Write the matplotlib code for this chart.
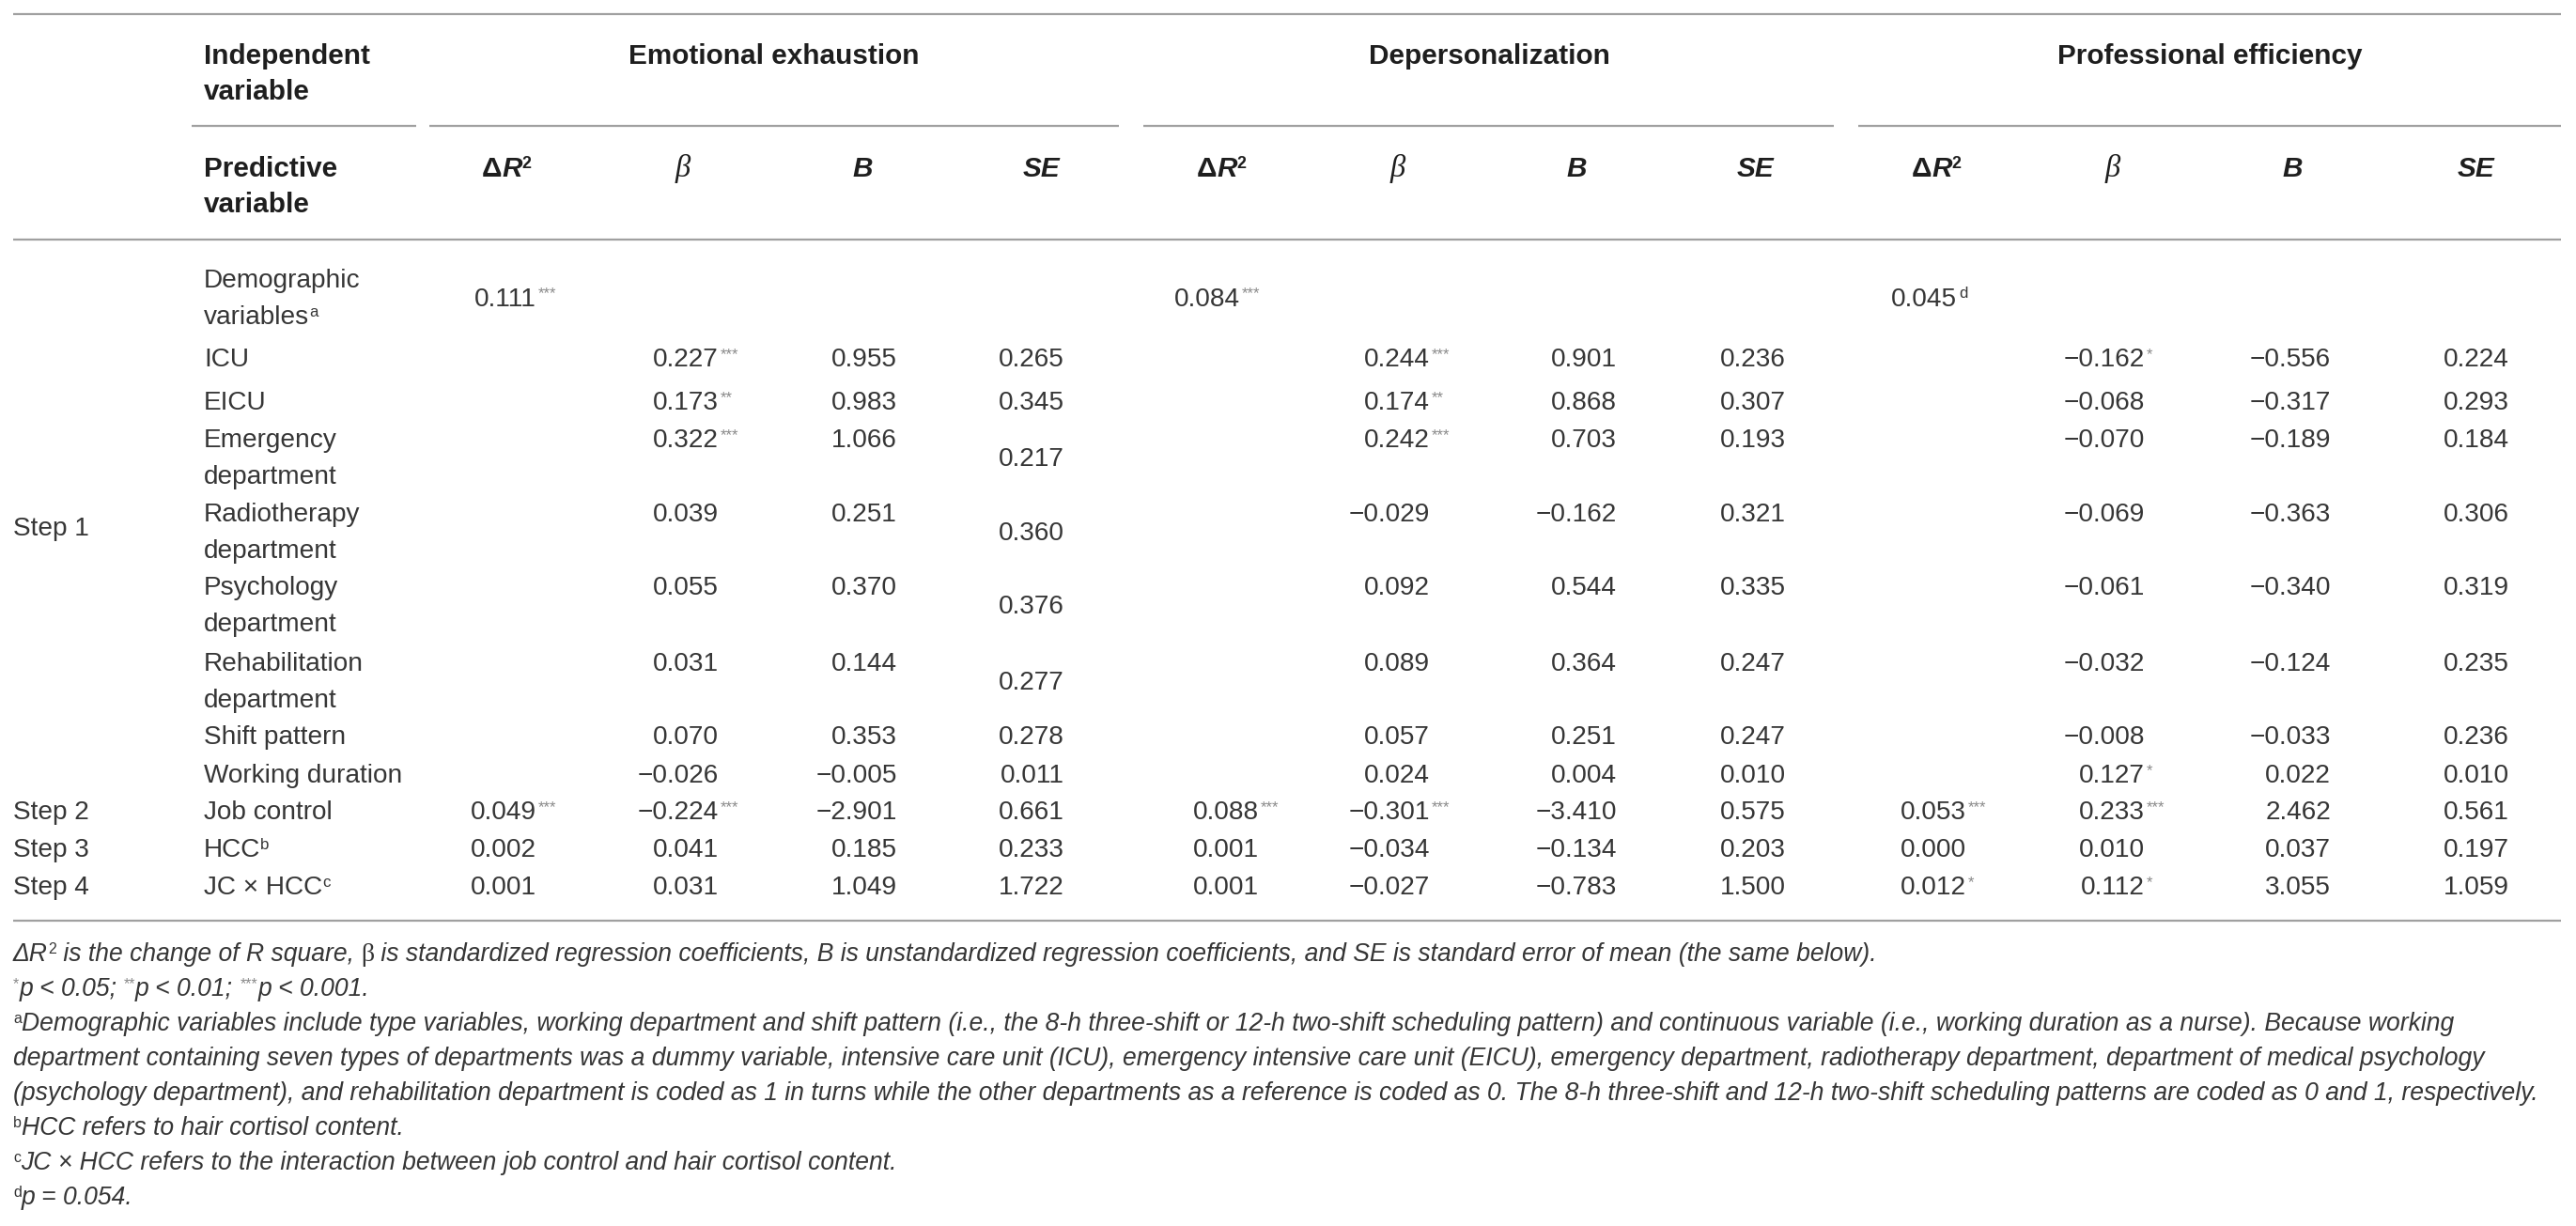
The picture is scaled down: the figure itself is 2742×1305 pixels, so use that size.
import re
import matplotlib
matplotlib.use("Agg")
import matplotlib.pyplot as plt

# ---- table content -------------------------------------------------------
GROUPS = ["Emotional exhaustion", "Depersonalization", "Professional efficiency"]
STEPS = ["Step 1", "Step 2", "Step 3", "Step 4"]
PREDICTORS = ["Demographic\nvariables", "ICU", "EICU", "Emergency\ndepartment",
              "Radiotherapy\ndepartment", "Psychology\ndepartment",
              "Rehabilitation\ndepartment", "Shift pattern", "Working duration",
              "Job control", "HCC", "JC × HCC"]
PRED_NOTES = {"Demographic\nvariables": "a", "HCC": "b", "JC × HCC": "c"}

# delta R square for: demographic block, job control, HCC, JC x HCC
DR2_EE = ["0.111***", "0.049***", "0.002", "0.001"]
DR2_DP = ["0.084***", "0.088***", "0.001", "0.001"]
DR2_PE = ["0.045d", "0.053***", "0.000", "0.012*"]

# rows ICU ... JC x HCC
BETA_EE = ["0.227***", "0.173**", "0.322***", "0.039", "0.055", "0.031", "0.070",
           "−0.026", "−0.224***", "0.041", "0.031"]
B_EE = ["0.955", "0.983", "1.066", "0.251", "0.370", "0.144", "0.353", "−0.005",
        "−2.901", "0.185", "1.049"]
SE_EE = ["0.265", "0.345", "0.217", "0.360", "0.376", "0.277", "0.278", "0.011",
         "0.661", "0.233", "1.722"]
BETA_DP = ["0.244***", "0.174**", "0.242***", "−0.029", "0.092", "0.089", "0.057",
           "0.024", "−0.301***", "−0.034", "−0.027"]
B_DP = ["0.901", "0.868", "0.703", "−0.162", "0.544", "0.364", "0.251", "0.004",
        "−3.410", "−0.134", "−0.783"]
SE_DP = ["0.236", "0.307", "0.193", "0.321", "0.335", "0.247", "0.247", "0.010",
         "0.575", "0.203", "1.500"]
BETA_PE = ["−0.162*", "−0.068", "−0.070", "−0.069", "−0.061", "−0.032", "−0.008",
           "0.127*", "0.233***", "0.010", "0.112*"]
B_PE = ["−0.556", "−0.317", "−0.189", "−0.363", "−0.340", "−0.124", "−0.033",
        "0.022", "2.462", "0.037", "3.055"]
SE_PE = ["0.224", "0.293", "0.184", "0.306", "0.319", "0.235", "0.236", "0.010",
         "0.561", "0.197", "1.059"]

FOOTNOTES = [
    [("ΔR", "it"), ("2", "sup"), (" is the change of R square, ", "it"), ("β", "grk"),
     (" is standardized regression coefficients, B is unstandardized regression "
      "coefficients, and SE is standard error of mean (the same below).", "it")],
    [("*", "star"), ("p < 0.05; ", "it"), ("**", "star"), ("p < 0.01; ", "it"),
     ("***", "star"), ("p < 0.001.", "it")],
    [("a", "sup"), ("Demographic variables include type variables, working department and "
                    "shift pattern (i.e., the 8-h three-shift or 12-h two-shift scheduling "
                    "pattern) and continuous variable (i.e., working duration as a nurse). "
                    "Because working", "it")],
    [("department containing seven types of departments was a dummy variable, intensive "
      "care unit (ICU), emergency intensive care unit (EICU), emergency department, "
      "radiotherapy department, department of medical psychology", "it")],
    [("(psychology department), and rehabilitation department is coded as 1 in turns while "
      "the other departments as a reference is coded as 0. The 8-h three-shift and 12-h "
      "two-shift scheduling patterns are coded as 0 and 1, respectively.", "it")],
    [("b", "sup"), ("HCC refers to hair cortisol content.", "it")],
    [("c", "sup"), ("JC × HCC refers to the interaction between job control and hair "
                    "cortisol content.", "it")],
    [("d", "sup"), ("p = 0.054.", "it")],
]

# ---- layout (pixels of the 2742 x 1305 output) ----------------------------
W, H = 2742, 1305
X0, X1 = 14, 2726
COL_RIGHT = [571, 765, 955, 1133, 1340, 1522, 1721, 1901, 2093, 2283, 2481, 2671]
HEAD_CX = [539, 727, 918, 1109, 1300, 1488, 1678, 1869, 2061, 2249, 2440, 2636]
GROUP_CX = [824, 1585, 2352]
SUB_RULES = [(204, 443), (457, 1191), (1217, 1952), (1978, 2726)]
ROW_Y = [296, 380, 426, 466, 545, 623, 704, 782, 823, 862, 902, 942]
STEP_Y = [560, 862, 902, 942]
DEMO_SHIFT = [0, -20, -10]
LINE_GAP = 39
LABEL_X = 217
NOTE_Y0, NOTE_GAP = 1013, 37.1

TXT, HEAD, STAR, RULE = "#363636", "#1e1e1e", "#8a8a8a", "#a0a0a0"
FAM = ["Liberation Sans", "DejaVu Sans"]
BODY, BOLD, NOTE = 20.2, 21.4, 19.1

fig = plt.figure(figsize=(W / 100, H / 100), dpi=100)
ax = fig.add_axes([0, 0, 1, 1])
ax.set_xlim(0, W)
ax.set_ylim(H, 0)
ax.axis("off")
renderer = fig.canvas.get_renderer()


def style(kind, size):
    kw = dict(fontfamily=FAM, fontsize=size, color=TXT)
    if kind == "it":
        kw["fontstyle"] = "italic"
    elif kind == "b":
        kw.update(fontweight="bold", color=HEAD)
    elif kind == "bi":
        kw.update(fontweight="bold", fontstyle="italic", color=HEAD)
    elif kind == "sup":
        kw["fontsize"] = size * 0.6
    elif kind == "supb":
        kw.update(fontsize=size * 0.6, fontweight="bold", color=HEAD)
    elif kind == "star":
        kw.update(fontsize=size * 0.6, color=STAR)
    elif kind == "grk":
        kw.update(fontfamily=["Liberation Serif", "DejaVu Serif"], fontsize=size * 1.05)
    elif kind == "grki":
        kw.update(fontfamily=["Liberation Serif", "DejaVu Serif"], fontstyle="italic",
                  fontsize=size * 1.1, color=HEAD)
    return kw


def measure(s, kw):
    t = ax.text(0, 0, s + "|", **kw)
    w1 = t.get_window_extent(renderer).width
    t.set_text("|")
    w0 = t.get_window_extent(renderer).width
    t.remove()
    return w1 - w0


def runs(x, yc, parts, size, ha="left"):
    em = size * 100 / 72
    base = yc + 0.36 * em
    widths = [measure(s, style(k, size)) for s, k in parts]
    if ha == "center":
        x -= sum(widths) / 2
    elif ha == "right":
        x -= sum(widths)
    for (s, k), w in zip(parts, widths):
        y = base - 0.30 * em if k in ("sup", "supb", "star") else base
        ax.text(x, y, s, va="baseline", ha="left", **style(k, size))
        x += w
    return x


def cell(xr, yc, val):
    num, note = re.match(r"^(−?[\d.]+)(.*)$", val).groups()
    end = runs(xr, yc, [(num, "rm")], BODY, ha="right")
    if note:
        runs(end + 2, yc, [(note, "star" if "*" in note else "sup")], BODY)


# ---- rules ----------------------------------------------------------------
for y in (15, 255, 980):
    ax.plot([X0, X1], [y, y], color=RULE, lw=1.6, solid_capstyle="butt")
for a, b in SUB_RULES:
    ax.plot([a, b], [134, 134], color=RULE, lw=1.6, solid_capstyle="butt")

# ---- header ---------------------------------------------------------------
runs(LABEL_X, 57, [("Independent", "b")], BOLD)
runs(LABEL_X, 95, [("variable", "b")], BOLD)
runs(LABEL_X, 177, [("Predictive", "b")], BOLD)
runs(LABEL_X, 215, [("variable", "b")], BOLD)
for cx, g in zip(GROUP_CX, GROUPS):
    runs(cx, 57, [(g, "b")], BOLD, ha="center")
heads = [[("Δ", "b"), ("R", "bi"), ("2", "supb")], [("β", "grki")], [("B", "bi")],
         [("SE", "bi")]]
for i, cx in enumerate(HEAD_CX):
    runs(cx, 177, heads[i % 4], BOLD, ha="center")

# ---- body -----------------------------------------------------------------
for step, y in zip(STEPS, STEP_Y):
    runs(X0, y, [(step, "rm")], BODY)

for lab, y in zip(PREDICTORS, ROW_Y):
    lines = lab.split("\n")
    for j, line in enumerate(lines):
        parts = [(line, "rm")]
        if j == len(lines) - 1 and lab in PRED_NOTES:
            parts.append((PRED_NOTES[lab], "sup"))
        runs(LABEL_X, y + j * LINE_GAP, parts, BODY)

dr2_y = [ROW_Y[0] + LINE_GAP / 2, ROW_Y[9], ROW_Y[10], ROW_Y[11]]
for g, col in enumerate((DR2_EE, DR2_DP, DR2_PE)):
    for k, (val, y) in enumerate(zip(col, dr2_y)):
        shift = DEMO_SHIFT[g] if k == 0 else 0
        cell(COL_RIGHT[g * 4] + shift, y, val)

tables = [(BETA_EE, B_EE, SE_EE), (BETA_DP, B_DP, SE_DP), (BETA_PE, B_PE, SE_PE)]
for g, cols in enumerate(tables):
    for c, col in enumerate(cols):
        for r, val in enumerate(col):
            y = ROW_Y[r + 1]
            two_line = "\n" in PREDICTORS[r + 1]
            if g == 0 and c == 2 and two_line:
                y += 20
            cell(COL_RIGHT[g * 4 + c + 1], y, val)

# ---- footnotes ------------------------------------------------------------
for i, parts in enumerate(FOOTNOTES):
    runs(X0, NOTE_Y0 + i * NOTE_GAP, parts, NOTE)

fig.savefig("out.png", dpi=100)
